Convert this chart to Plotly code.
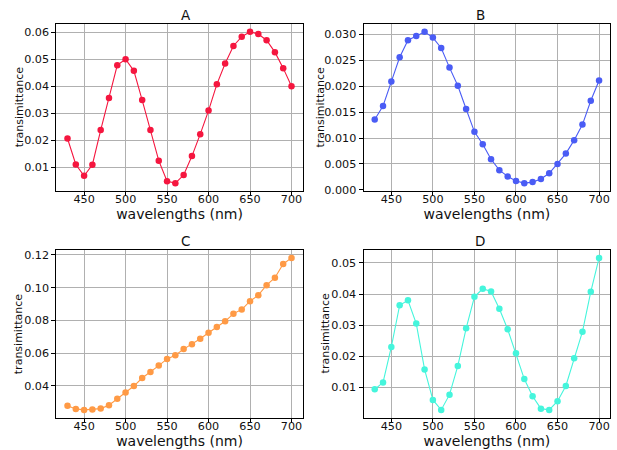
import plotly.graph_objects as go
from plotly.subplots import make_subplots

wavelengths = [430, 440, 450, 460, 470, 480, 490, 500, 510, 520, 530, 540, 550, 560,
               570, 580, 590, 600, 610, 620, 630, 640, 650, 660, 670, 680, 690, 700]

trans_A = [0.0207, 0.0111, 0.0069, 0.0110, 0.0238, 0.0357, 0.0478, 0.0500, 0.0457, 0.0349,
           0.0238, 0.0125, 0.0049, 0.0042, 0.0072, 0.0142, 0.0223, 0.0310, 0.0407, 0.0484,
           0.0549, 0.0583, 0.0601, 0.0593, 0.0570, 0.0526, 0.0467, 0.0400]
trans_B = [0.0136, 0.0162, 0.0209, 0.0256, 0.0289, 0.0297, 0.0305, 0.0294, 0.0274, 0.0236,
           0.0201, 0.0156, 0.0112, 0.0088, 0.0059, 0.0038, 0.0026, 0.0017, 0.0013, 0.0015,
           0.0021, 0.0032, 0.0050, 0.0070, 0.0096, 0.0126, 0.0172, 0.0211]
trans_C = [0.0277, 0.0258, 0.0252, 0.0254, 0.0260, 0.0281, 0.0320, 0.0359, 0.0398, 0.0447,
           0.0484, 0.0523, 0.0564, 0.0587, 0.0624, 0.0654, 0.0687, 0.0724, 0.0759, 0.0794,
           0.0841, 0.0866, 0.0917, 0.0954, 0.1015, 0.1061, 0.1145, 0.1182]
trans_D = [0.0094, 0.0116, 0.0230, 0.0364, 0.0380, 0.0305, 0.0158, 0.0060, 0.0028, 0.0077,
           0.0169, 0.0290, 0.0391, 0.0417, 0.0408, 0.0353, 0.0287, 0.0210, 0.0127, 0.0072,
           0.0032, 0.0028, 0.0056, 0.0105, 0.0194, 0.0279, 0.0407, 0.0516]

panel_titles = ["A", "B", "C", "D"]
series = [trans_A, trans_B, trans_C, trans_D]
colors = ["#f5163f", "#4a5cf5", "#ff9a45", "#45f5dc"]
x_label = "wavelengths (nm)"
y_label = "transimittance"

y_ticks = [
    [0.01, 0.02, 0.03, 0.04, 0.05, 0.06],
    [0.000, 0.005, 0.010, 0.015, 0.020, 0.025, 0.030],
    [0.04, 0.06, 0.08, 0.10, 0.12],
    [0.01, 0.02, 0.03, 0.04, 0.05],
]
y_fmt = [".2f", ".3f", ".2f", ".2f"]
x_ticks = [450, 500, 550, 600, 650, 700]

W, H = 617, 450
x_domains = [[56.3 / W, 302.7 / W], [363.5 / W, 610.3 / W]]
y_domains = [[1 - 190.7 / H, 1 - 24.3 / H], [1 - 417.5 / H, 1 - 250.3 / H]]
ytitle_shift = [-36.5, -43.5, -37, -38]

fig = make_subplots(rows=2, cols=2)

def padded(vals):
    lo, hi = min(vals), max(vals)
    m = (hi - lo) * 0.05
    return [lo - m, hi + m]

xr = padded(wavelengths)

for i, (ys, col, title) in enumerate(zip(series, colors, panel_titles)):
    r, c = i // 2 + 1, i % 2 + 1
    fig.add_trace(go.Scatter(
        x=wavelengths, y=ys, mode="lines+markers",
        line=dict(color=col, width=1.1),
        marker=dict(color=col, size=6.5),
        showlegend=False,
    ), row=r, col=c)
    idx = "" if i == 0 else str(i + 1)
    fig.layout["xaxis" + idx].update(
        domain=x_domains[c - 1], range=xr,
        tickvals=x_ticks,
        title=dict(text=x_label, font=dict(size=14, color="#111"), standoff=3),
    )
    fig.layout["yaxis" + idx].update(
        domain=y_domains[r - 1], range=padded(ys),
        tickvals=y_ticks[i], tickformat=y_fmt[i],
    )
    xd = x_domains[c - 1]
    yd = y_domains[r - 1]
    fig.add_annotation(
        x=(xd[0] + xd[1]) / 2, y=yd[1], xref="paper", yref="paper",
        text=title, showarrow=False, yanchor="bottom", yshift=-1,
        font=dict(size=13.5, color="#111"),
    )
    fig.add_annotation(
        x=xd[0], y=(yd[0] + yd[1]) / 2, xref="paper", yref="paper",
        text=y_label, showarrow=False, textangle=-90,
        xanchor="center", yanchor="middle", xshift=ytitle_shift[i],
        font=dict(size=11, color="#111"),
    )

fig.update_xaxes(
    automargin=False,
    showgrid=True, gridcolor="#b0b0b0", gridwidth=1,
    showline=True, linecolor="black", linewidth=1, mirror=True,
    ticks="outside", ticklen=4, tickcolor="black", tickwidth=1,
    ticklabelstandoff=-6,
    tickfont=dict(size=11.2, color="#111"), zeroline=False,
)
fig.update_yaxes(
    automargin=False,
    showgrid=True, gridcolor="#b0b0b0", gridwidth=1,
    showline=True, linecolor="black", linewidth=1, mirror=True,
    ticks="outside", ticklen=4, tickcolor="black", tickwidth=1,
    tickfont=dict(size=11.2, color="#111"), zeroline=False,
)

fig.update_layout(
    width=W, height=H,
    margin=dict(l=0, r=0, t=0, b=0, autoexpand=False),
    paper_bgcolor="white", plot_bgcolor="white",
    font=dict(family="DejaVu Sans", color="#111"),
)

fig.write_html(
    "out.html",
    config={"displayModeBar": False},
    post_script="document.body.style.margin='0';document.body.style.overflow='hidden';",
)
